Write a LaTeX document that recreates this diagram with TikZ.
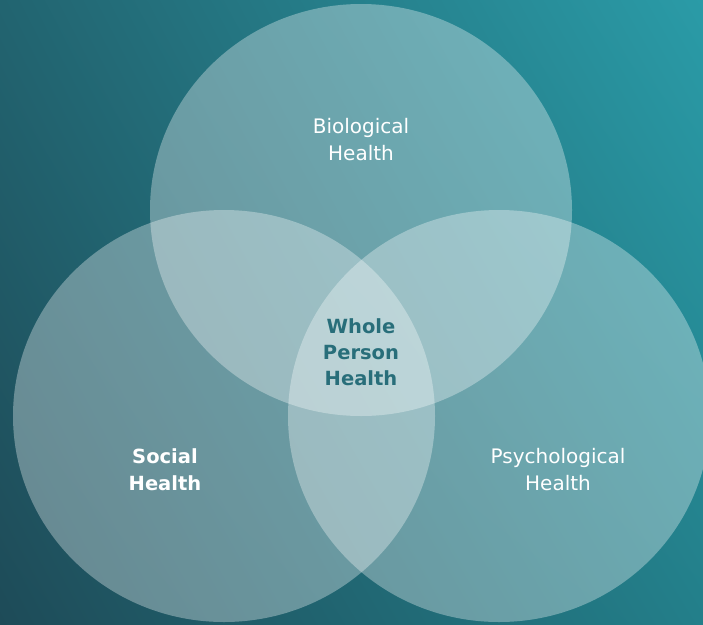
\documentclass[tikz,border=0pt]{standalone}
\usepackage{fontspec}
\usetikzlibrary{shadings,shapes.geometric}
\setmainfont{DejaVu Sans}
\definecolor{bgTL}{RGB}{34,100,112}
\definecolor{bgTR}{RGB}{42,155,167}
\definecolor{bgBL}{RGB}{30,75,88}
\definecolor{bgBR}{RGB}{35,127,138}
\definecolor{centertxt}{RGB}{40,110,122}
\tikzset{
  venn/.style={ellipse, inner sep=0pt, minimum width=422pt, minimum height=412pt, fill=white, fill opacity=0.33, draw=none},
  lbl/.style={align=center, text=white, font=\fontsize{20}{27}\selectfont},
  lblbold/.style={lbl, font=\fontsize{19.5}{27}\selectfont\bfseries},
  lblcenter/.style={lbl, text=centertxt, font=\fontsize{19.5}{26}\selectfont\bfseries}
}
\begin{document}
\begin{tikzpicture}[x=1pt,y=-1pt]
\useasboundingbox (0,0) rectangle (703,624);
\shade[upper left=bgTL, upper right=bgTR, lower left=bgBL, lower right=bgBR] (0,0) rectangle (703,624);
\begin{scope}
\clip (0,0) rectangle (703,624);
\node[venn] (bio) at (361,210) {};
\node[venn] (soc) at (224,416) {};
\node[venn] (psy) at (499,416) {};
\end{scope}
\node[lbl] (biot) at (361,140) {Biological\\Health};
\node[lblcenter] (whole) at (361,352) {Whole\\Person\\Health};
\node[lblbold] (soct) at (165,470) {Social\\Health};
\node[lbl] (psyt) at (558,470) {Psychological\\Health};
\end{tikzpicture}
\end{document}
